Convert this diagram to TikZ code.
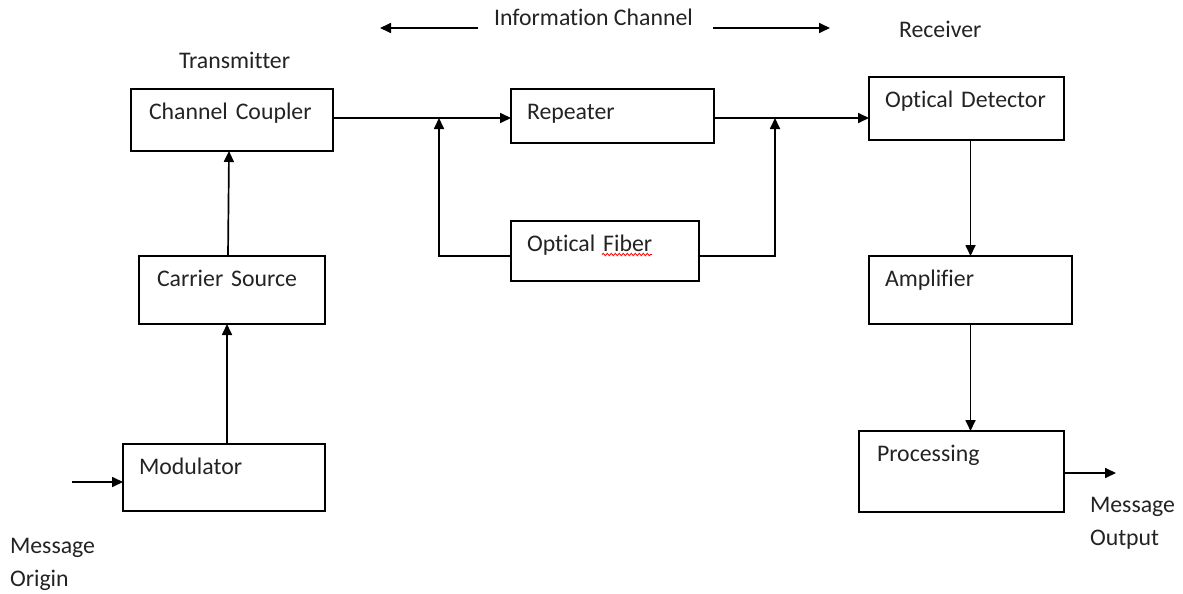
\documentclass[tikz,border=0pt]{standalone}
\usepackage{fontspec}
\setmainfont{Carlito}[Ligatures={NoCommon}]
\usetikzlibrary{arrows.meta,decorations.pathmorphing}
\definecolor{txt}{RGB}{35,35,35}
\tikzset{
  blk/.style={draw=black, line width=1.7pt, anchor=north west, inner ysep=0pt,
    outer sep=0pt, align=left, text height=30.5pt, text=txt,
    font=\fontsize{23.8}{28}\selectfont},
  lbl/.style={inner sep=0pt, outer sep=0pt, text=txt, align=left,
    font=\fontsize{23.8}{33}\selectfont},
  arr/.style={line width=1.7pt, -{Triangle[length=11pt,width=10pt]}},
  wire/.style={line width=1.7pt}
}
\begin{document}
\begin{tikzpicture}[x=1pt,y=-1pt]
\useasboundingbox (0,0) rectangle (1183,594);
% blocks
\node[blk, inner xsep=18pt, text width=166pt, text depth=31.5pt] (coup) at (131,89) {Channel Coupler};
\node[blk, inner xsep=18pt, text width=150pt, text depth=37.5pt] (carr) at (139,256) {Carrier Source};
\node[blk, inner xsep=16pt, text width=170pt, text depth=36.5pt] (mod) at (123,444) {Modulator};
\node[blk, inner xsep=16pt, text width=171pt, text depth=23.5pt] (rep) at (511,89) {Repeater};
\node[blk, inner xsep=16pt, text width=156pt, text depth=29.5pt] (fib) at (511,221) {Optical Fiber};
\node[blk, inner xsep=16pt, text width=163pt, text depth=32.5pt] (det) at (869,77) {Optical Detector};
\node[blk, inner xsep=16pt, text width=171pt, text depth=37.5pt] (amp) at (869,256) {Amplifier};
\node[blk, inner xsep=18pt, text width=169pt, text depth=50.5pt] (proc) at (859,431) {Processing};
% labels
\node[lbl, anchor=base west] (tx) at (179,69) {Transmitter};
\node[lbl, anchor=base west] (info) at (494,26) {Information Channel};
\node[lbl, anchor=base west] (rx) at (899,38) {Receiver};
\node[lbl, anchor=north west] (orig) at (10,538.5) {Message\\Origin};
\node[lbl, anchor=north west] (outp) at (1090,497.5) {Message\\Output};
% spell-check squiggle
\draw[red, line width=0.8pt, decorate, decoration={snake, amplitude=1.2pt, segment length=4pt}] (602,254.5) -- (652,254.5);
% coordinates
\coordinate (ia1) at (478,28);
\coordinate (ia2) at (380,28);
\coordinate (ib1) at (713,28);
\coordinate (ib2) at (830,28);
\coordinate (j1) at (439,118);
\coordinate (j2) at (775,118);
\coordinate (in) at (72,482);
\coordinate (out) at (1116,473);
% connectors
\draw[arr] (ia1) -- (ia2);
\draw[arr] (ib1) -- (ib2);
\draw[arr] (in) -- (in -| mod.west);
\draw[arr] ([xshift=3pt]mod.north) -- ([xshift=-5pt]carr.south);
\draw[arr] ([xshift=-4pt]carr.north) -- ([xshift=-3pt]coup.south);
\draw[arr] ([yshift=2pt]coup.east) -- ([yshift=2pt]coup.east -| rep.west);
\draw[arr] ([yshift=-2pt]rep.east) -- ([yshift=-2pt]rep.east -| det.west);
\draw[arr] ([yshift=-5pt]fib.west) -| (j1);
\draw[arr] ([yshift=-5pt]fib.east) -| (j2);
\draw[arr] (amp.north |- det.south) -- (amp.north);
\draw[arr] (amp.south) -- (amp.south |- proc.north);
\draw[arr] ([yshift=-1.5pt]proc.east) -- ([yshift=-1.5pt]proc.east -| out);
\end{tikzpicture}
\end{document}
